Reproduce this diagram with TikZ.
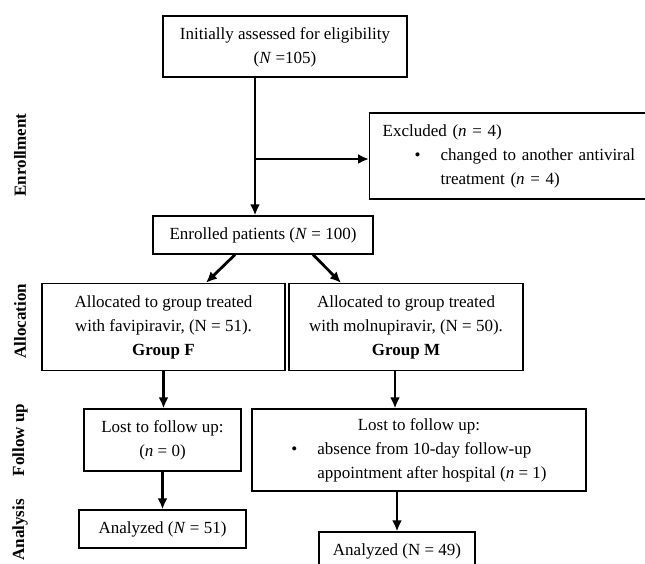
\documentclass[tikz,border=0pt]{standalone}
\usepackage{fontspec}
\setmainfont{Liberation Serif}
\usepackage{tikz}
\usetikzlibrary{arrows.meta,positioning}
\renewcommand{\arraystretch}{1.2}
\tikzstyle{arrow} = [line width=2.8pt,-{Latex[length=11pt,width=10pt]}]
\tikzstyle{stage} = [rectangle, draw, line width=1.3pt, text centered, inner sep=0pt, font=\fontsize{17}{20}\selectfont]
\tikzstyle{phase} = [rotate=90, font=\fontsize{17}{20}\selectfont\bfseries]

\begin{document}
\begin{tikzpicture}[x=1pt, y=-1pt]
\useasboundingbox (0,0) rectangle (645,563);

% Enrollment
\node (assess) [stage, minimum width=244pt, minimum height=61pt] at (285,46.5) {
\begin{tabular}{c}
Initially assessed for eligibility\\
(\textit{N} =105)
\end{tabular}
};

\node (excl) [stage, anchor=west, minimum width=300pt, minimum height=86pt, text width=274pt, align=left] at (369,156) {
\begin{tabular}{@{}l@{}}
Excluded (\textit{n} = 4)\\
\hspace*{32pt}\makebox[26pt][l]{\textbullet}changed to another antiviral\\
\hspace*{58pt}treatment (\textit{n} = 4)
\end{tabular}
};

\node (enrol) [stage, minimum width=220pt, minimum height=38pt] at (263,235) {Enrolled patients (\textit{N} = 100)};

\coordinate (trunk) at (255,0);
\draw[arrow] (assess.south -| trunk) -- (enrol.north -| trunk);
\draw[arrow] (trunk |- excl.west) ++(0,3) -- ([yshift=-3pt]excl.west);

% Allocation
\node (favi) [stage, minimum width=243pt, minimum height=87pt] at (163.5,327) {
\begin{tabular}{c}
Allocated to group treated\\
with favipiravir, (N = 51).\\
\textbf{Group F}
\end{tabular}
};

\node (molnu) [stage, minimum width=234pt, minimum height=87pt] at (406,327) {
\begin{tabular}{c}
Allocated to group treated\\
with molnupiravir, (N = 50).\\
\textbf{Group M}
\end{tabular}
};

\draw[arrow] ([xshift=-28pt]enrol.south) -- ([xshift=42.5pt]favi.north);
\draw[arrow] ([xshift=50pt]enrol.south) -- ([xshift=-65pt]molnu.north);

% Follow up
\node (lostF) [stage, minimum width=157pt, minimum height=62pt] at (162.5,440) {
\begin{tabular}{c}
Lost to follow up:\\
(\textit{n} = 0)
\end{tabular}
};

\node (lostM) [stage, minimum width=334pt, minimum height=82pt] at (419,450) {
\begin{tabular}{@{}l@{}}
\multicolumn{1}{c}{Lost to follow up:}\\
\makebox[26pt][l]{\textbullet}absence from 10-day follow-up\\
\hspace*{26pt}appointment after hospital (\textit{n} = 1)
\end{tabular}
};

\coordinate (mdrop) at ([xshift=-11pt]molnu.south);
\draw[arrow] (favi.south) -- (favi.south |- lostF.north);
\draw[arrow] (mdrop) -- (mdrop |- lostM.north);

% Analysis
\node (anaF) [stage, minimum width=167pt, minimum height=38pt] at (162.5,529) {Analyzed (\textit{N} = 51)};
\node (anaM) [stage, minimum width=156pt, minimum height=38pt] at (397,551) {Analyzed (N = 49)};

\draw[arrow] (lostF.south) -- (lostF.south |- anaF.north);
\draw[arrow] (lostM.south -| anaM.north) -- (anaM.north);

% Phase labels
\node (enrollment) [phase] at (20,155) {Enrollment};
\node (allocation) [phase] at (20,321) {Allocation};
\node (followup) [phase] at (20,440) {Follow up};
\node (analysis) [phase] at (20,530) {Analysis};
\end{tikzpicture}
\end{document}
